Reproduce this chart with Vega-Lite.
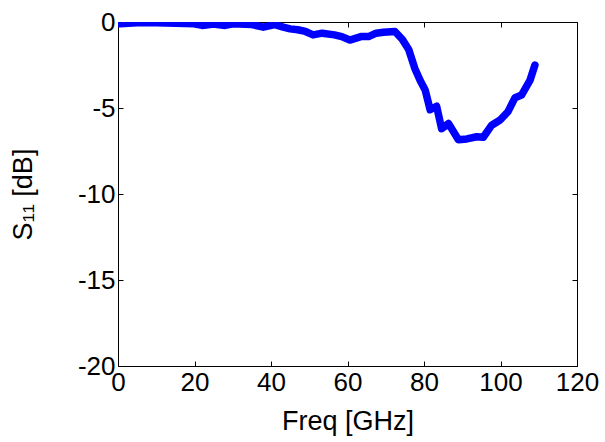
{
  "$schema": "https://vega.github.io/schema/vega-lite/v6.json",
  "autosize": "none",
  "width": 459,
  "height": 344,
  "padding": {"left": 118, "top": 22, "right": 28, "bottom": 76},
  "background": "white",
  "config": {
    "view": {"stroke": "black", "strokeWidth": 1},
    "axis": {
      "labelFont": "Liberation Sans",
      "titleFont": "Liberation Sans",
      "labelFontSize": 26,
      "titleFontSize": 27,
      "titleFontWeight": "normal",
      "labelColor": "black",
      "titleColor": "black",
      "domainColor": "black",
      "tickColor": "black",
      "grid": false
    }
  },
  "data": {
    "values": [
      {"f": 0.5, "s": -0.1}, {"f": 5, "s": -0.05}, {"f": 10, "s": -0.05}, {"f": 15, "s": -0.08},
      {"f": 20, "s": -0.1}, {"f": 22, "s": -0.2}, {"f": 25, "s": -0.12}, {"f": 28, "s": -0.2}, {"f": 30, "s": -0.1}, {"f": 35, "s": -0.15},
      {"f": 38, "s": -0.3}, {"f": 41, "s": -0.15}, {"f": 43.2, "s": -0.3}, {"f": 45, "s": -0.4},
      {"f": 47, "s": -0.45}, {"f": 49, "s": -0.55}, {"f": 51, "s": -0.75}, {"f": 53.4, "s": -0.65},
      {"f": 56.6, "s": -0.75}, {"f": 58.5, "s": -0.85}, {"f": 60.6, "s": -1.05}, {"f": 63.5, "s": -0.85},
      {"f": 65.5, "s": -0.85}, {"f": 67.5, "s": -0.65}, {"f": 69.4, "s": -0.6}, {"f": 72.4, "s": -0.55},
      {"f": 74.3, "s": -1.0}, {"f": 76, "s": -1.6}, {"f": 77.6, "s": -2.7}, {"f": 79, "s": -3.4},
      {"f": 80.3, "s": -3.95}, {"f": 81.6, "s": -5.1}, {"f": 83.3, "s": -4.9}, {"f": 84.6, "s": -6.2},
      {"f": 86.4, "s": -5.9}, {"f": 89, "s": -6.85}, {"f": 91.2, "s": -6.8}, {"f": 93.8, "s": -6.67},
      {"f": 95.5, "s": -6.7}, {"f": 97.7, "s": -6.0}, {"f": 99.9, "s": -5.7}, {"f": 102, "s": -5.2},
      {"f": 103.8, "s": -4.4}, {"f": 105.5, "s": -4.25}, {"f": 107.7, "s": -3.4}, {"f": 109, "s": -2.5}
    ]
  },
  "layer": [
    {
      "mark": {"type": "line", "color": "#0000FF", "strokeWidth": 7.5, "strokeCap": "round", "strokeJoin": "round", "clip": true},
      "encoding": {
        "x": {"field": "f", "type": "quantitative", "scale": {"domain": [0, 120], "nice": false},
          "axis": {"title": "Freq [GHz]", "values": [0, 20, 40, 60, 80, 100, 120], "labelExpr": "datum.value + ''", "labelOverlap": false, "labelFlush": false, "tickSize": -5, "labelPadding": 8, "titlePadding": 13, "domain": false}},
        "y": {"field": "s", "type": "quantitative", "scale": {"domain": [-20, 0], "nice": false},
          "axis": {"title": "S₁₁ [dB]", "values": [-20, -15, -10, -5, 0], "labelExpr": "datum.value + ''", "labelOverlap": false, "labelFlush": false, "tickSize": -5, "labelPadding": 8, "titlePadding": 40, "domain": false}}
      }
    },
    {
      "mark": {"type": "line", "opacity": 0},
      "encoding": {
        "x": {"field": "f", "type": "quantitative", "scale": {"domain": [0, 120], "nice": false},
          "axis": {"orient": "top", "title": null, "labels": false, "values": [0, 20, 40, 60, 80, 100, 120], "tickSize": -5, "domain": false}},
        "y": {"field": "s", "type": "quantitative", "scale": {"domain": [-20, 0], "nice": false},
          "axis": {"orient": "right", "title": null, "labels": false, "values": [-20, -15, -10, -5, 0], "tickSize": -5, "domain": false}}
      }
    }
  ],
  "resolve": {"axis": {"x": "independent", "y": "independent"}}
}
